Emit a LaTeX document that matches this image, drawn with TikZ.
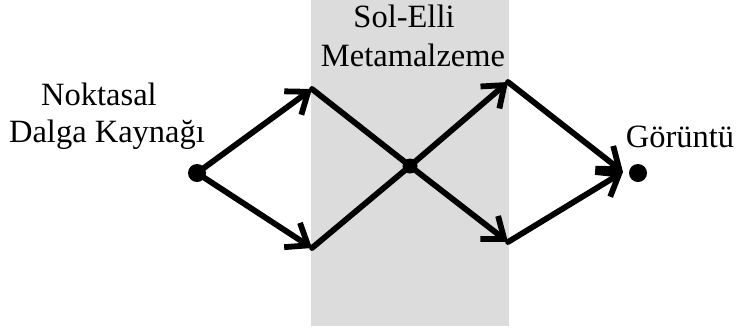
\documentclass[tikz,border=0pt]{standalone}
\usepackage{fontspec}
\setmainfont{Liberation Serif}
\usetikzlibrary{arrows.meta}
\begin{document}
\begin{tikzpicture}[x=1pt,y=-1pt,
  lbl/.style={anchor=base,inner sep=0pt,font=\fontsize{32.5}{38}\selectfont},
  dot/.style={circle,fill=black,inner sep=0pt,minimum size=#1},
  ray/.style={line width=5.8pt,line cap=round,line join=miter},
  arr/.style={ray,-{Straight Barb[length=19pt,width=29pt,line width=5.8pt]}}]
\useasboundingbox (0,0) rectangle (736,333);
\fill[fill={rgb,255:red,220;green,220;blue,220}] (311,0) rectangle (509,326);
% points
\node[dot=18pt] (src) at (197,173) {};
\coordinate (v1) at (312,89);
\coordinate (v2) at (312,248);
\node[dot=15pt] (c) at (410,166) {};
\coordinate (w1) at (508,82);
\coordinate (w2) at (508,242);
\coordinate (tip) at (623,172);
\node[dot=18pt] (img) at (638,173) {};
% rays
\draw[arr] (src.center) -- (v1);
\draw[arr] (src.center) -- (v2);
\draw[ray] (v1) -- (c.center);
\draw[ray] (v2) -- (c.center);
\draw[arr] (c.center) -- (w1);
\draw[arr] (c.center) -- (w2);
\draw[arr] (w1) -- (tip);
\draw[arr] (w2) -- (tip);
% labels
\node[lbl] (t1) at (99,105) {Noktasal};
\node[lbl] (t2) at (107,142) {Dalga Kaynağı};
\node[lbl] (t3) at (404,27) {Sol-Elli};
\node[lbl] (t4) at (413,66) {Metamalzeme};
\node[lbl] (t5) at (680,147) {Görüntü};
\end{tikzpicture}
\end{document}
